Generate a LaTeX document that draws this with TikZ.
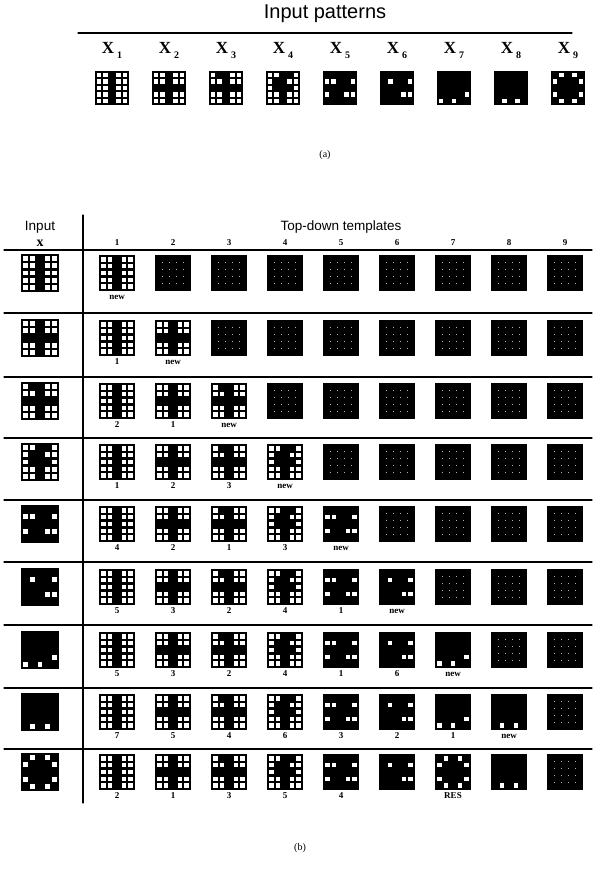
\documentclass[tikz,border=0pt]{standalone}
\usepackage{fontspec}
\setmainfont{Liberation Serif}
\setsansfont{Liberation Sans}
\usetikzlibrary{positioning}
\tikzset{
  hd/.style={inner sep=0pt,font=\sffamily\fontsize{13.5}{14}\selectfont},
  xl/.style={inner sep=0pt,font=\bfseries\fontsize{17}{17}\selectfont},
  num/.style={inner sep=0pt,font=\bfseries\fontsize{9}{9}\selectfont},
  tag/.style={inner sep=0pt,font=\bfseries\fontsize{9}{9}\selectfont},
  capt/.style={inner sep=0pt,font=\fontsize{10}{10}\selectfont},
  rl/.style={line width=1.1pt},
  every picture/.style={line cap=round,line join=round}}

% white cells of each pattern, row/col, row 0 on top
\expandafter\def\csname pat1\endcsname{0/0,0/1,0/3,0/4,1/0,1/1,1/3,1/4,2/0,2/1,2/3,2/4,3/0,3/1,3/3,3/4,4/0,4/1,4/3,4/4}
\expandafter\def\csname pat2\endcsname{0/0,0/1,0/3,0/4,1/0,1/1,1/3,1/4,3/0,3/1,3/3,3/4,4/0,4/1,4/3,4/4}
\expandafter\def\csname pat3\endcsname{0/0,0/3,0/4,1/0,1/1,1/3,1/4,3/0,3/1,3/3,3/4,4/0,4/1,4/3,4/4}
\expandafter\def\csname pat4\endcsname{0/0,0/1,0/4,1/0,1/3,1/4,2/0,2/4,3/0,3/1,3/3,3/4,4/0,4/1,4/3,4/4}
\expandafter\def\csname pat5\endcsname{1/0,1/1,1/4,3/0,3/3,3/4}
\expandafter\def\csname pat6\endcsname{1/1,1/4,3/3,3/4}
\expandafter\def\csname pat7\endcsname{4/0,4/2,3/4}
\expandafter\def\csname pat8\endcsname{4/1,4/3}
\expandafter\def\csname pat9\endcsname{0/1,0/3,1/0,1/4,3/0,3/4,4/1,4/3}

\newcommand{\drawpat}[3]{%
  \edef\curpat{\csname pat#3\endcsname}%
  \begin{scope}[shift={#1},scale=#2/5]
    \fill (-2.6,-2.6) rectangle (2.6,2.6);
    \foreach \rw/\cl in \curpat {\fill[white] (\cl-2.33,\rw-2.33) rectangle (\cl-1.67,\rw-1.67);}
  \end{scope}}
\newcommand{\drawblank}[2]{%
  \begin{scope}[shift={#1},scale=#2/5]
    \fill (-2.6,-2.6) rectangle (2.6,2.6);
    \foreach \u in {-1.5,-0.5,0.5,1.5} \foreach \v in {-1.5,-0.5,0.5,1.5}
      {\fill[gray!60] (\u-0.08,\v-0.08) rectangle (\u+0.08,\v+0.08);}
  \end{scope}}

\begin{document}
\begin{tikzpicture}[x=1pt,y=-1pt]
  \useasboundingbox (0,0) rectangle (603,879);
  % (a)
  \node[hd,font=\sffamily\fontsize{20}{20}\selectfont] (ttl) at (325,14) {Input patterns};
  \draw[rl] (78,33) -- (572,33);
  \foreach \i in {1,...,9} {
    \node[xl] (x\i) at ({55+57*\i},50) {X\,\raisebox{-5pt}{\fontsize{10}{10}\selectfont\i}};
    \drawpat{({55+57*\i},88)}{33}{\i}
  }
  \node[capt] (capa) at (325,155) {(a)};
  % (b)
  \node[hd] (inp) at (40,227) {Input};
  \node[xl,font=\bfseries\fontsize{14}{14}\selectfont] (xin) at (40,243) {x};
  \node[hd] (tdt) at (341,227) {Top-down templates};
  \foreach \j in {1,...,9} \node[num] (c\j) at ({61+56*\j},243) {\j};
  \draw[rl] (83,215) -- (83,803);
  \foreach \yy in {250,313,377,438,500,562,625,688,749} \draw[rl] (4,\yy) -- (592,\yy);
  \foreach \r/\yc/\labs in {1/273/{new},2/338/{1,new},3/401/{2,1,new},4/462/{1,2,3,new},
      5/524/{4,2,1,3,new},6/587/{5,3,2,4,1,new},7/650/{5,3,2,4,1,6,new},8/712/{7,5,4,6,3,2,1,new}} {
    \drawpat{(40,\yc)}{37}{\r}
    \foreach \j in {1,...,9} {\ifnum\j>\r\relax \drawblank{({61+56*\j},\yc)}{34}\else \drawpat{({61+56*\j},\yc)}{34}{\j}\fi}
    \foreach \lb [count=\j] in \labs {\node[tag] (t\r-\j) at ({61+56*\j},\yc+24) {\lb};}
  }
  \drawpat{(40,772)}{37}{9}
  \foreach \j/\p in {1/1,2/2,3/3,4/4,5/5,6/6,7/9,8/8} {\drawpat{({61+56*\j},772)}{34}{\p}}
  \drawblank{(565,772)}{34}
  \foreach \lb [count=\j] in {2,1,3,5,4} {\node[tag] (t9-\j) at ({61+56*\j},796) {\lb};}
  \node[tag] (res) at (453,796) {RES};
  \node[capt] (capb) at (300,848) {(b)};
\end{tikzpicture}
\end{document}
